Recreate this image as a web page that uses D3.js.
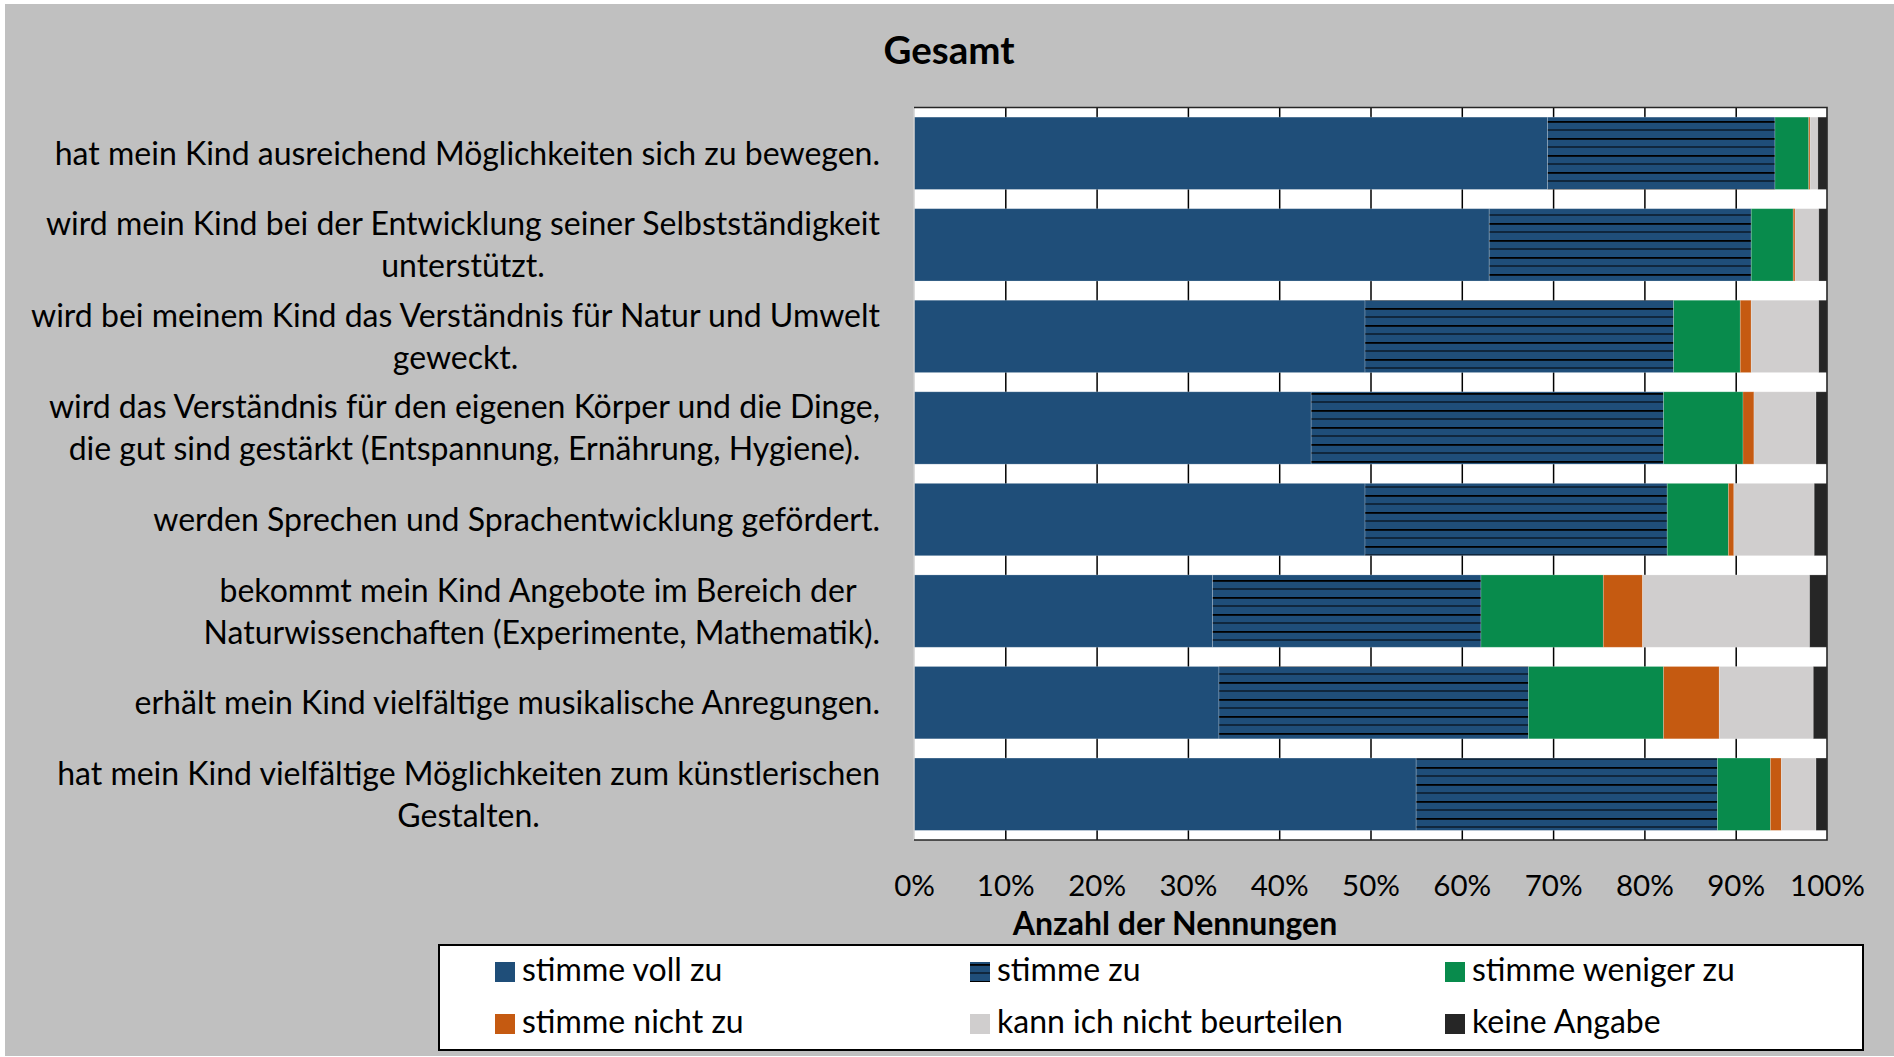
<!DOCTYPE html>
<html>
<head>
<meta charset="utf-8">
<script src="https://cdn.jsdelivr.net/npm/d3@7"></script>
<style>
  body { margin: 0; background: #fff; overflow: hidden; }
  svg { display: block; }
  text { font-family: Lato, "Open Sans", sans-serif; fill: #000; }
</style>
</head>
<body>
<svg id="chart" width="1894" height="1057"></svg>
<script>
const WIDTH = 1894;
const HEIGHT = 1057;

// questions, top to bottom (line breaks as in the original)
const categories = [
  ["hat mein Kind ausreichend Möglichkeiten sich zu bewegen."],
  ["wird mein Kind bei der Entwicklung seiner Selbstständigkeit", "unterstützt."],
  ["wird bei meinem Kind das Verständnis für Natur und Umwelt", "geweckt."],
  ["wird das Verständnis für den eigenen Körper und die Dinge,", "die gut sind gestärkt (Entspannung, Ernährung, Hygiene)."],
  ["werden Sprechen und Sprachentwicklung gefördert."],
  ["bekommt mein Kind Angebote im Bereich der ", "Naturwissenchaften (Experimente, Mathematik)."],
  ["erhält mein Kind vielfältige musikalische Anregungen."],
  ["hat mein Kind vielfältige Möglichkeiten zum künstlerischen", "Gestalten."]
];

const seriesNames = ["stimme voll zu", "stimme zu", "stimme weniger zu", "stimme nicht zu", "kann ich nicht beurteilen", "keine Angabe"];

// shares in percent
const vollZu  = [69.4, 63.0, 49.4, 43.5, 49.4, 32.7, 33.4, 55.0];
const zu      = [24.9, 28.7, 33.8, 38.6, 33.1, 29.4, 33.9, 33.0];
const weniger = [3.7, 4.6, 7.3, 8.7, 6.7, 13.4, 14.8, 5.8];
const nicht   = [0.15, 0.2, 1.2, 1.2, 0.6, 4.3, 6.1, 1.2];
const kann    = [0.85, 2.6, 7.4, 6.8, 8.8, 18.3, 10.3, 3.8];
const keine   = [1.0, 0.9, 0.9, 1.2, 1.4, 1.9, 1.5, 1.2];

const tickValues = [0, 10, 20, 30, 40, 50, 60, 70, 80, 90, 100];

const colors = ["#1F4E79", "url(#hatch)", "#088B4C", "#C55A11", "#D0CECE", "#262626"];

const rows = categories.map((c, i) => ({
  idx: i,
  "stimme voll zu": vollZu[i],
  "stimme zu": zu[i],
  "stimme weniger zu": weniger[i],
  "stimme nicht zu": nicht[i],
  "kann ich nicht beurteilen": kann[i],
  "keine Angabe": keine[i]
}));

const plot = { left: 914, right: 1827, top: 107.5, bottom: 840 };

let svg = d3.select("#chart");

// grey chart area with a thin white page margin
svg.append("rect")
   .attr("x", 5).attr("y", 4)
   .attr("width", WIDTH - 5).attr("height", HEIGHT - 5)
   .attr("fill", "#C0C0C0");

let defs = svg.append("defs");
let hatch = defs.append("pattern")
                .attr("id", "hatch")
                .attr("patternUnits", "userSpaceOnUse")
                .attr("width", 8).attr("height", 17);
hatch.append("rect").attr("width", 8).attr("height", 17).attr("fill", "#1F4E79");
hatch.append("rect").attr("y", 2).attr("width", 8).attr("height", 1.8).attr("fill", "#000");
hatch.append("rect").attr("y", 10.5).attr("width", 8).attr("height", 1).attr("fill", "#000");

let x = d3.scaleLinear()
          .domain([0, 100])
          .range([plot.left, plot.right]);

let y = d3.scaleBand()
          .domain(categories.map((c, i) => i))
          .range([plot.top, plot.bottom])
          .paddingInner(0.21)
          .paddingOuter(0.105);

// plot background
svg.append("rect")
   .attr("x", plot.left).attr("y", plot.top)
   .attr("width", plot.right - plot.left).attr("height", plot.bottom - plot.top)
   .attr("fill", "#fff");

// vertical gridlines
svg.append("g")
   .attr("transform", `translate(0,${plot.bottom})`)
   .call(d3.axisBottom(x).tickValues(tickValues.slice(1, -1)).tickSize(-(plot.bottom - plot.top)).tickFormat(""))
   .call(g => g.select(".domain").remove())
   .call(g => g.selectAll("line").attr("stroke", "#000").attr("stroke-width", 1.5));

let stack = d3.stack().keys(seriesNames);
let layers = stack(rows);

svg.append("g")
   .selectAll("g")
   .data(layers)
   .enter().append("g")
   .attr("fill", (d, i) => colors[i])
   .selectAll("rect")
   .data(d => d)
   .enter().append("rect")
   .attr("x", d => x(d[0]))
   .attr("y", d => y(d.data.idx))
   .attr("width", d => x(d[1]) - x(d[0]))
   .attr("height", y.bandwidth())
   .attr("stroke", "#fff")
   .attr("stroke-opacity", 0.25)
   .attr("stroke-width", 0.8);

// plot frame: light left axis, dark top/right/bottom
svg.append("line")
   .attr("x1", plot.left).attr("x2", plot.left)
   .attr("y1", plot.top).attr("y2", plot.bottom)
   .attr("stroke", "#d0d0d0").attr("stroke-width", 1.5);
svg.append("path")
   .attr("d", `M${plot.left},${plot.top}H${plot.right}V${plot.bottom}H${plot.left}`)
   .attr("fill", "none")
   .attr("stroke", "#262626")
   .attr("stroke-width", 1.6);

// x tick labels
svg.append("g")
   .attr("transform", `translate(0,${plot.bottom})`)
   .call(d3.axisBottom(x).tickValues(tickValues).tickSize(0).tickPadding(35).tickFormat(d => d + "%"))
   .call(g => g.select(".domain").remove())
   .call(g => g.selectAll("text")
               .attr("fill", "#000")
               .style("font-family", "Lato, sans-serif")
               .style("font-size", "29.5px"));

// category labels: lines centred on each other, block right-aligned
let labels = svg.append("g");
categories.forEach((lines, i) => {
  let cy = y(i) + y.bandwidth() / 2;
  let t = labels.append("text")
                .style("font-size", "32px")
                .style("white-space", "pre")
                .attr("text-anchor", "middle");
  let spans = lines.map((line, k) =>
    t.append("tspan")
     .attr("y", cy + 11.5 + (k - (lines.length - 1) / 2) * 42)
     .text(line));
  let maxW = d3.max(spans, s => s.node().getComputedTextLength());
  spans.forEach(s => s.attr("x", 880 - maxW / 2));
});

// title
svg.append("text")
   .attr("x", 949).attr("y", 64)
   .attr("text-anchor", "middle")
   .style("font-size", "38.5px")
   .style("font-weight", "bold")
   .text("Gesamt");

// axis title
svg.append("text")
   .attr("x", 1175).attr("y", 935)
   .attr("text-anchor", "middle")
   .style("font-size", "32px")
   .style("font-weight", "bold")
   .text("Anzahl der Nennungen");

// legend
let legend = svg.append("g");
legend.append("rect")
      .attr("x", 439).attr("y", 945)
      .attr("width", 1424).attr("height", 105)
      .attr("fill", "#fff")
      .attr("stroke", "#000")
      .attr("stroke-width", 2);

const legendCols = [495, 970, 1445];
const legendRows = [962, 1014];

let items = legend.selectAll("g.item")
                  .data(seriesNames)
                  .enter().append("g")
                  .attr("class", "item")
                  .attr("transform", (d, i) => `translate(${legendCols[i % 3]},${legendRows[Math.floor(i / 3)]})`);
items.append("rect")
     .attr("width", 20).attr("height", 20)
     .attr("fill", (d, i) => colors[i]);
items.append("text")
     .attr("x", 27).attr("y", 19)
     .style("font-size", "32px")
     .text(d => d);
</script>
</body>
</html>
